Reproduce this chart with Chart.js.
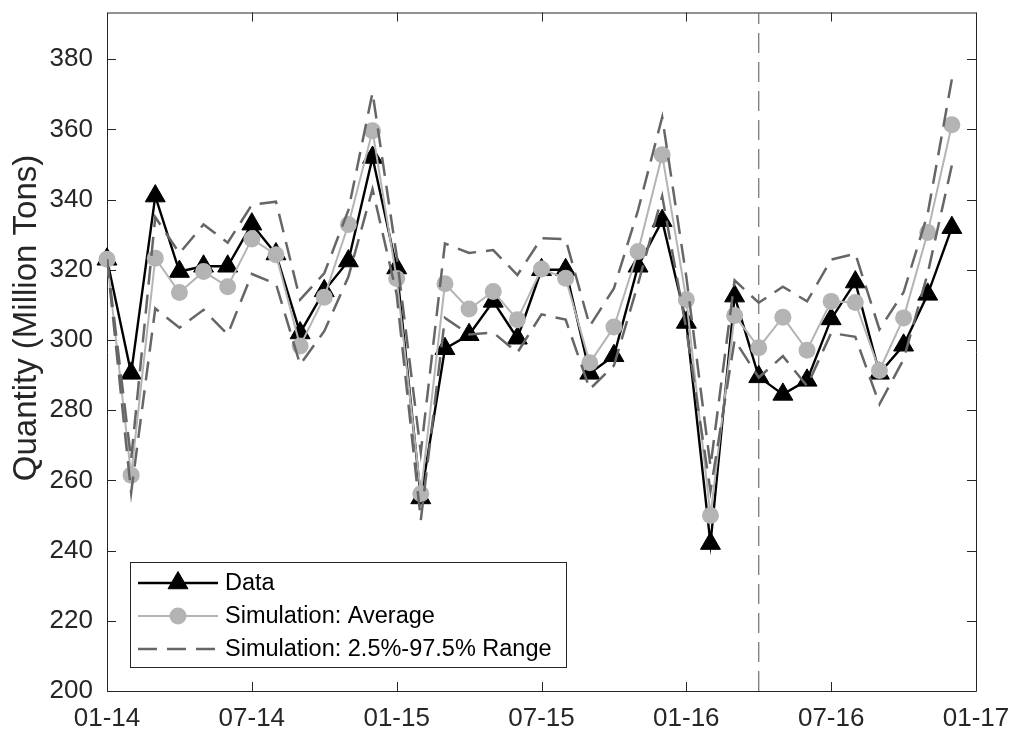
<!DOCTYPE html>
<html lang="en">
<head>
    <meta charset="UTF-8">
    <title>Quantity: Data vs Simulation</title>
    <style>
        body {
            margin: 0;
            background: #fff;
        }
        .chart-box {
            width: 1010px;
            height: 738px;
        }
    </style>
</head>
<body>
    <div class="chart-box">
        <canvas id="qtyChart" width="1010" height="738"></canvas>
    </div>

    <script src="https://cdn.jsdelivr.net/npm/chart.js"></script>
    <script>
        // month index: 0 = Jan 2014 ... 35 = Dec 2016
        const xTickValues = [0, 6, 12, 18, 24, 30, 36];
        const xTickLabels = ['01-14', '07-14', '01-15', '07-15', '01-16', '07-16', '01-17'];
        const yTickValues = [200, 220, 240, 260, 280, 300, 320, 340, 360, 380];
        const yMin = 200;
        const yMax = 393.3;
        const splitMonth = 27; // 04-16, start of the out-of-sample period
        const yTitle = 'Quantity (Million Tons)';

        const dataQty = [
            323, 290.5, 341, 319.5, 321, 321, 333, 324.5, 302, 314, 322.5, 352,
            320.5, 255, 297.5, 301.5, 311, 300.5, 320, 320, 290.5, 295.5, 321, 334,
            305, 242, 312.5, 289.5, 284.5, 288.5, 306, 316.5, 290.5, 298.5, 313, 332
        ];
        const simAverage = [
            323, 261.5, 323.3, 313.5, 319.5, 315.2, 328.8, 324.3, 298.3, 312.2, 332.9, 359.6,
            317.5, 256.2, 316, 308.8, 313.8, 305.8, 320.2, 317.6, 293.5, 303.7, 325.2, 352.8,
            311.5, 250, 307, 297.8, 306.5, 297.1, 311, 310.7, 291.3, 306.3, 330.6, 361.3
        ];
        const simHigh = [
            323, 266, 335, 324.7, 332.9, 327.7, 338.5, 339.4, 311.5, 319, 337, 370.5,
            324, 268, 327.5, 324.8, 325.6, 318.5, 329, 328.7, 304, 314.7, 337, 363.5,
            318, 264, 317, 310.6, 315.2, 311, 322.9, 324.6, 303, 313.6, 336, 374.3
        ];
        const simLow = [
            323, 256.5, 309, 303.5, 308.6, 301.6, 318.8, 316, 293, 302.5, 318, 343,
            313, 248.7, 306.3, 301.6, 302.1, 296.4, 307.3, 305.8, 286, 292.7, 316, 341,
            303, 257, 300, 289.3, 295.4, 286.9, 302, 300.9, 281.7, 294.5, 319, 349.8
        ];

        const FONT = '"Liberation Sans", Arial, Helvetica, sans-serif';
        const AXIS_COLOR = '#262626';

        const toPoints = arr => arr.map((v, i) => ({ x: i, y: v }));

        // MATLAB-like box with inward ticks on all four sides, plus the y label
        const axesBox = {
            id: 'axesBox',
            beforeDatasetsDraw(chart) {
                const { ctx, chartArea: a, scales } = chart;
                const tl = 9;
                ctx.save();
                ctx.strokeStyle = AXIS_COLOR;
                ctx.lineWidth = 1;
                ctx.beginPath();
                ctx.rect(a.left + 0.5, a.top + 0.5, a.right - a.left, a.bottom - a.top);
                yTickValues.forEach(v => {
                    const y = Math.round(scales.y.getPixelForValue(v)) + 0.5;
                    ctx.moveTo(a.left, y); ctx.lineTo(a.left + tl, y);
                    ctx.moveTo(a.right, y); ctx.lineTo(a.right - tl, y);
                });
                xTickValues.forEach(v => {
                    const x = Math.round(scales.x.getPixelForValue(v)) + 0.5;
                    ctx.moveTo(x, a.bottom); ctx.lineTo(x, a.bottom - tl);
                    ctx.moveTo(x, a.top); ctx.lineTo(x, a.top + tl);
                });
                ctx.stroke();

                // y axis label
                ctx.translate(27, 318);
                ctx.rotate(-Math.PI / 2);
                ctx.fillStyle = AXIS_COLOR;
                ctx.font = '33px ' + FONT;
                ctx.textAlign = 'center';
                ctx.textBaseline = 'middle';
                ctx.fillText(yTitle, 0, 0);
                ctx.restore();
            }
        };

        // legend with line + marker samples, bottom-left inside the axes
        const legendBox = {
            id: 'legendBox',
            afterDraw(chart) {
                const { ctx, chartArea: a } = chart;
                const entries = [3, 2, 0];
                const w = 436, h = 105;
                const left = a.left + 23;
                const top = a.bottom - 24 - h;
                const rows = [21, 54, 87];
                ctx.save();
                ctx.fillStyle = '#fff';
                ctx.fillRect(left, top, w, h);
                ctx.strokeStyle = AXIS_COLOR;
                ctx.lineWidth = 1;
                ctx.strokeRect(left + 0.5, top + 0.5, w, h);
                entries.forEach((dsIndex, k) => {
                    const ds = chart.data.datasets[dsIndex];
                    const y = top + rows[k];
                    ctx.save();
                    ctx.strokeStyle = ds.borderColor;
                    ctx.lineWidth = ds.borderWidth;
                    ctx.setLineDash(ds.borderDash || []);
                    ctx.beginPath();
                    ctx.moveTo(left + 8, y);
                    ctx.lineTo(left + 88, y);
                    ctx.stroke();
                    ctx.restore();
                    if (ds.pointRadius > 0) {
                        ctx.fillStyle = ds.pointBackgroundColor;
                        ctx.strokeStyle = ds.pointBorderColor;
                        ctx.lineWidth = ds.pointBorderWidth;
                        Chart.helpers.drawPoint(ctx, {
                            pointStyle: ds.pointStyle,
                            radius: ds.pointRadius,
                            borderWidth: ds.pointBorderWidth,
                            rotation: 0
                        }, left + 48, y);
                    }
                    ctx.fillStyle = '#000';
                    ctx.font = '23.5px ' + FONT;
                    ctx.textBaseline = 'middle';
                    ctx.textAlign = 'left';
                    ctx.fillText(ds.label, left + 95, y + 1);
                });
                ctx.restore();
            }
        };

        const rangeStyle = {
            borderColor: '#666666',
            borderWidth: 2.5,
            borderDash: [19, 10],
            pointRadius: 0,
            fill: false,
            order: 0
        };

        const ctx = document.getElementById('qtyChart').getContext('2d');
        const qtyChart = new Chart(ctx, {
            type: 'line',
            data: {
                datasets: [
                    Object.assign({ label: 'Simulation: 2.5%-97.5% Range', data: toPoints(simHigh) }, rangeStyle),
                    Object.assign({ label: 'Simulation: 2.5%-97.5% Range', data: toPoints(simLow) }, rangeStyle),
                    {
                        label: 'Simulation: Average',
                        data: toPoints(simAverage),
                        borderColor: '#b4b4b4',
                        borderWidth: 2,
                        pointStyle: 'circle',
                        pointRadius: 8.5,
                        pointBorderWidth: 0,
                        pointBackgroundColor: '#b4b4b4',
                        pointBorderColor: '#b4b4b4',
                        clip: false,
                        order: 1
                    },
                    {
                        label: 'Data',
                        data: toPoints(dataQty),
                        borderColor: '#000000',
                        borderWidth: 2.4,
                        pointStyle: 'triangle',
                        pointRadius: 11.5,
                        pointBorderWidth: 1,
                        pointBackgroundColor: '#000000',
                        pointBorderColor: '#000000',
                        clip: false,
                        order: 2
                    },
                    {
                        label: 'split',
                        data: [{ x: splitMonth, y: yMin }, { x: splitMonth, y: yMax }],
                        borderColor: '#6e6e6e',
                        borderWidth: 1.2,
                        borderDash: [20, 9],
                        pointRadius: 0,
                        order: 3
                    }
                ]
            },
            options: {
                responsive: false,
                animation: false,
                devicePixelRatio: 1,
                layout: {
                    padding: { left: 0, right: 34, top: 8, bottom: 0 }
                },
                plugins: {
                    legend: { display: false },
                    tooltip: { enabled: false }
                },
                elements: {
                    line: { tension: 0 }
                },
                scales: {
                    x: {
                        type: 'linear',
                        min: 0,
                        max: 36,
                        grid: { drawOnChartArea: false, drawTicks: false },
                        border: { display: false },
                        afterBuildTicks: scale => {
                            scale.ticks = xTickValues.map(v => ({ value: v }));
                        },
                        afterFit: scale => {
                            scale.height = 47;
                            scale.paddingLeft = 0;
                            scale.paddingRight = 0;
                        },
                        ticks: {
                            autoSkip: false,
                            maxRotation: 0,
                            minRotation: 0,
                            padding: 12,
                            color: AXIS_COLOR,
                            font: { family: FONT, size: 26 },
                            callback: v => xTickLabels[xTickValues.indexOf(v)]
                        }
                    },
                    y: {
                        min: yMin,
                        max: yMax,
                        grid: { drawOnChartArea: false, drawTicks: false },
                        border: { display: false },
                        afterBuildTicks: scale => {
                            scale.ticks = yTickValues.map(v => ({ value: v }));
                        },
                        afterFit: scale => {
                            scale.width = 107;
                            scale.paddingTop = 0;
                            scale.paddingBottom = 0;
                        },
                        ticks: {
                            padding: 14,
                            color: AXIS_COLOR,
                            font: { family: FONT, size: 26 },
                            callback: v => String(v)
                        }
                    }
                }
            },
            plugins: [axesBox, legendBox]
        });
    </script>
</body>
</html>
